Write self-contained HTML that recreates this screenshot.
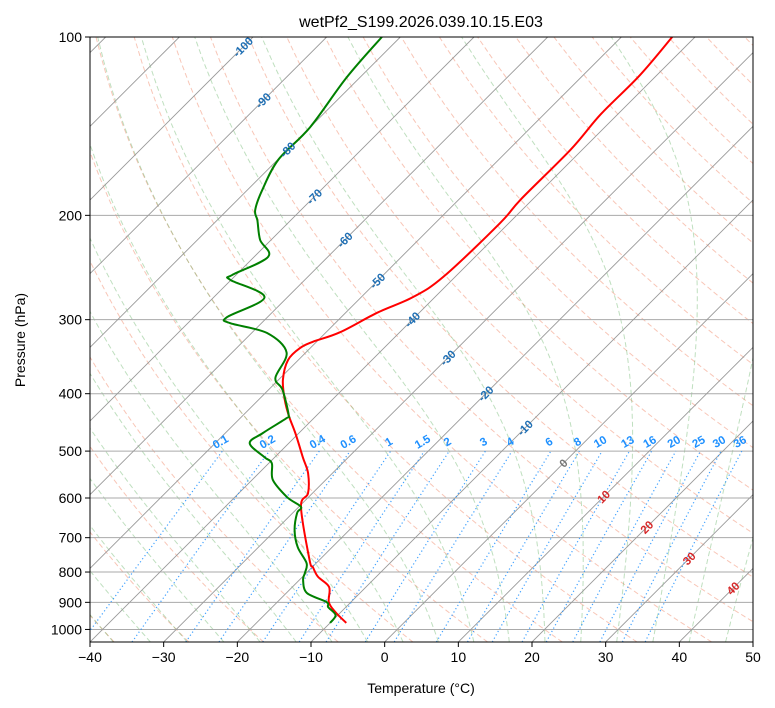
<!DOCTYPE html>
<html><head><meta charset="utf-8"><style>
body{margin:0;background:#fff;font-family:"Liberation Sans","DejaVu Sans",sans-serif;}
svg{display:block}
text{font-family:"Liberation Sans","DejaVu Sans",sans-serif;}
</style></head><body>
<svg id="chart" width="775" height="708" viewBox="0 0 775 708">
<defs><clipPath id="pc"><rect x="90" y="37" width="663" height="605"/></clipPath></defs>
<rect x="0" y="0" width="775" height="708" fill="#fff"/>
<text x="421" y="27" font-size="16" text-anchor="middle">wetPf2_S199.2026.039.10.15.E03</text>
<g id="bg" clip-path="url(#pc)"></g>
<g id="prof" clip-path="url(#pc)"></g>
<g id="lbl"></g>
<rect x="90" y="37" width="663" height="605" fill="none" stroke="#000" stroke-width="1"/>
<g id="axes"></g>
<text x="421" y="693" font-size="14" text-anchor="middle">Temperature (°C)</text>
<text x="25" y="340" font-size="14" text-anchor="middle" transform="rotate(-90 25 340)">Pressure (hPa)</text>
</svg>
<script>
// data
const tempP=[975,934,899,848,815,785,764,621,589,545,512,466,436,410,379,351,335,327,315,292,275,254,206,188,155,135,116,100];
const tempT=[-7.8,-10.8,-13.0,-15.0,-17.9,-19.9,-21.3,-29.7,-30.6,-33.3,-36.2,-40.5,-43.7,-46.4,-49.4,-51.4,-51.4,-50.5,-48.1,-45.7,-43.0,-41.6,-41.2,-41.6,-41.6,-42.3,-42.3,-43.1];
const dewP=[975,946,917,899,868,825,803,773,726,680,636,621,598,559,524,512,485,466,440,435,394,376,341,316,304,297,275,257,252,235,220,204,196,181,161,142,117,100];
const dewT=[-10.0,-10.3,-12.4,-13.3,-17.2,-19.5,-20.2,-21.3,-24.7,-27.4,-29.4,-29.7,-32.9,-37.2,-39.6,-41.4,-45.3,-44.9,-43.7,-43.8,-48.1,-50.7,-52.6,-57.9,-64.3,-65.5,-63.1,-70.1,-70.5,-68.1,-71.5,-74.5,-76.2,-78.0,-79.9,-80.0,-81.8,-82.5];
const xTicks=[-40,-30,-20,-10,0,10,20,30,40,50];
const pTicks=[100,200,300,400,500,600,700,800,900,1000];
const mixVals=[0.1,0.2,0.4,0.6,1,1.5,2,3,4,6,8,10,13,16,20,25,30,36];
const mixLabels=["0.1","0.2","0.4","0.6","1","1.5","2","3","4","6","8","10","13","16","20","25","30","36"];
const isoLabelVals=[-100,-90,-80,-70,-60,-50,-40,-30,-20,-10,0,10,20,30,40];
const isoLabelP=[104,128,155,186,220,258,300,348,400,457,524,597,672,759,852];

const NS="http://www.w3.org/2000/svg";
const X0=90,X1=753,Y0=37,Y1=642,PX=(X1-X0)/90;
function yP(p){return Y0+(Y1-Y0)*(Math.log10(p)-2)/(Math.log10(1050)-2);}
function xT(T,p){return X0+(T+40)*PX+(Y1-yP(p));}
function mk(tag,attrs,parent){const e=document.createElementNS(NS,tag);for(const k in attrs)e.setAttribute(k,attrs[k]);parent.appendChild(e);return e;}
const bg=document.getElementById('bg'),prof=document.getElementById('prof'),lbl=document.getElementById('lbl'),axes=document.getElementById('axes');
function pathFrom(pts){return pts.map((q,i)=>(i?'L':'M')+q[0].toFixed(1)+' '+q[1].toFixed(1)).join(' ');}
function smoothPath(pts){
  let d='M'+pts[0][0].toFixed(1)+' '+pts[0][1].toFixed(1);
  for(let i=0;i<pts.length-1;i++){
    const p0=pts[Math.max(0,i-1)],p1=pts[i],p2=pts[i+1],p3=pts[Math.min(pts.length-1,i+2)];
    const c1=[p1[0]+(p2[0]-p0[0])/6,p1[1]+(p2[1]-p0[1])/6],c2=[p2[0]-(p3[0]-p1[0])/6,p2[1]-(p3[1]-p1[1])/6];
    d+=` C${c1[0].toFixed(1)} ${c1[1].toFixed(1)} ${c2[0].toFixed(1)} ${c2[1].toFixed(1)} ${p2[0].toFixed(1)} ${p2[1].toFixed(1)}`;
  }
  return d;
}
const plevels=[];for(let p=1050;p>=100;p-=10)plevels.push(p);

// dry adiabats
for(let t0=-40;t0<=200;t0+=10){
  const th=t0+273.15;
  const pts=plevels.map(p=>[xT(th*Math.pow(p/1000,0.2857)-273.15,p),yP(p)]);
  const e=mk('path',{d:pathFrom(pts),fill:'none',stroke:'#f08060','stroke-opacity':'0.45','stroke-width':'1','stroke-dasharray':'5 3'},bg);
  
  
}
// moist adiabats
function es(Tc){return 6.112*Math.exp(17.67*Tc/(Tc+243.5));}
function dTdp(T,p){const Tc=T-273.15;const e=es(Tc);const rs=0.622*e/(p-e);const Rd=287.04,Cp=1005.7,Lv=2.501e6;
 return (Rd*T+Lv*rs)/(p*(Cp+Lv*Lv*rs*0.622/(Rd*T*T)));}
for(let t0=-40;t0<=45;t0+=5){
  let T=t0+273.15,p=1000;const up=[[xT(t0,1000),yP(1000)]];
  while(p>100){const dp=-2;T+=dTdp(T,p)*dp;p+=dp;if(p%10===0)up.push([xT(T-273.15,p),yP(p)]);}
  let T2=t0+273.15;p=1000;const dn=[];
  while(p<1050){T2+=dTdp(T2,p)*2;p+=2;if(p%10===0)dn.push([xT(T2-273.15,p),yP(p)]);}
  const pts=dn.reverse().concat(up);
  const e=mk('path',{d:pathFrom(pts),fill:'none',stroke:'#60b060','stroke-opacity':'0.4','stroke-width':'1','stroke-dasharray':'5 3'},bg);
  
  
}
// isobars
pTicks.forEach(p=>{
  const e=mk('line',{x1:X0,x2:X1,y1:yP(p),y2:yP(p),stroke:'#aaa','stroke-width':'1'},bg);
  
  
});
// isotherms
for(let t=-140;t<=50;t+=10){
  const e=mk('line',{x1:xT(t,1050),y1:yP(1050),x2:xT(t,100),y2:yP(100),stroke:'#999','stroke-width':'0.9'},bg);
  
  
}
// mixing ratio lines
mixVals.forEach((w,i)=>{
  const pts=[];
  for(let p=1050;p>=500;p-=10){const e=p*(w/1000)/(0.622+w/1000);const l=Math.log(e/6.112);const Td=243.5*l/(17.67-l);pts.push([xT(Td,p),yP(p)]);}
  const e=mk('path',{d:pathFrom(pts),fill:'none',stroke:'#1e90ff','stroke-opacity':'0.85','stroke-width':'1.2','stroke-dasharray':'1.2 2.6'},bg);
  
  
  const top=pts[pts.length-1];
  const t=mk('text',{x:top[0],y:top[1]-6,'font-size':'11.5','font-weight':'bold',fill:'#1e90ff','text-anchor':'middle',transform:`rotate(-30 ${top[0]} ${top[1]-6})`},lbl);
  t.textContent=mixLabels[i];
  
  
});
// isotherm labels
isoLabelVals.forEach((v,i)=>{
  const p=isoLabelP[i];const x=xT(v,p),y=yP(p);
  const col=v<0?'#1f6fb4':(v===0?'#777':'#d62728');
  const t=mk('text',{x:x,y:y+4,'font-size':'11.5','font-weight':'bold',fill:col,'text-anchor':'middle',transform:`rotate(-45 ${x} ${y})`},lbl);
  t.textContent=String(v);
  
  
});
// profiles
const tp=mk('path',{d:smoothPath(tempP.map((p,i)=>[xT(tempT[i],p),yP(p)])),fill:'none',stroke:'#ff0000','stroke-width':'2','stroke-linejoin':'round'},prof);


const dp=mk('path',{d:smoothPath(dewP.map((p,i)=>[xT(dewT[i],p),yP(p)])),fill:'none',stroke:'#008000','stroke-width':'2','stroke-linejoin':'round'},prof);


// axes ticks
xTicks.forEach(t=>{
  const x=X0+(t+40)*PX;
  mk('line',{x1:x,x2:x,y1:Y1,y2:Y1+5,stroke:'#000'},axes);
  const e=mk('text',{x:x,y:Y1+20,'font-size':'14','text-anchor':'middle'},axes);
  e.textContent=t<0?'\u2212'+(-t):String(t);
  
  
});
pTicks.forEach(p=>{
  const y=yP(p);
  mk('line',{x1:X0-5,x2:X0,y1:y,y2:y,stroke:'#000'},axes);
  const e=mk('text',{x:X0-8,y:y+5,'font-size':'14','text-anchor':'end'},axes);
  e.textContent=String(p);
  
  
});
</script>
</body></html>
